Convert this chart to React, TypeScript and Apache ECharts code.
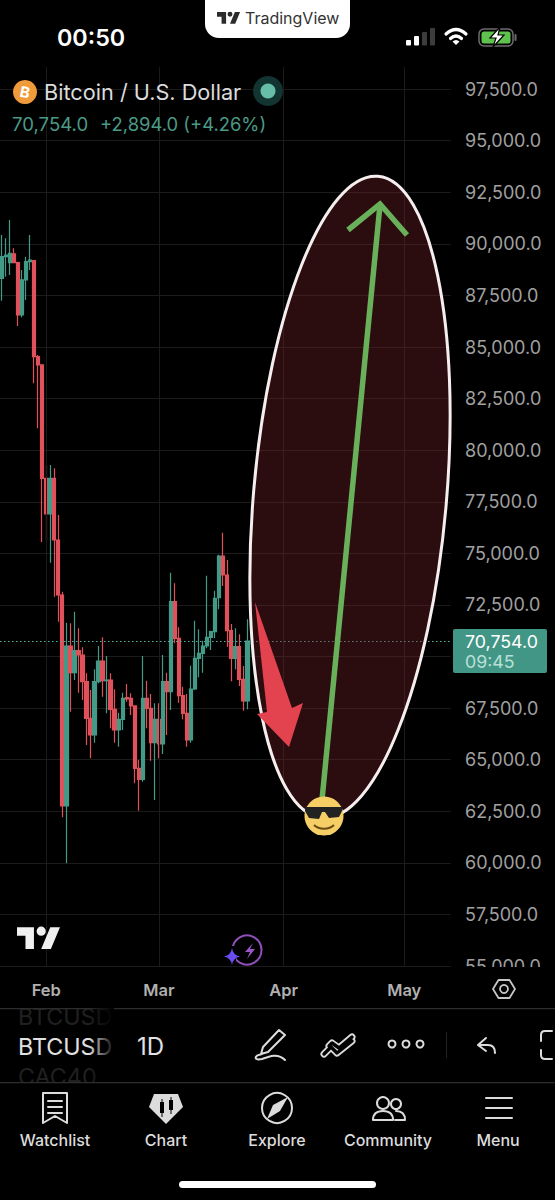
import React, { useEffect, useRef } from "react";
import * as echarts from "echarts";

const opens = [88331,89381,89090,89510,89090,86554,88250,89138,89187,84535,84131,78639,76910,78639,75649,72984,62759,70513,69221,70287,70077,68784,67008,66200,68784,69786,68833,68865,67444,66442,66959,68009,67977,67606,64585,64052,67977,67493,65829,66960,65764,68785,68300,72662,70885,68106,67250,65958,68429,69916,70158,70513,70933,71208,72855,74874,73954,71256,69916,70481,68898,67848];
const closes = [89381,89461,89542,89090,86554,88250,89138,89219,84535,84131,78639,76910,78639,75649,72984,62759,70513,69221,70287,70077,68784,67008,66200,68784,69786,68833,68865,67444,66442,66959,67977,67945,67606,64585,64052,67977,67493,65829,66960,65764,68785,68300,72662,70885,68106,67250,65958,68429,69916,70158,70513,70933,71208,72823,74874,73954,71256,69916,70481,68898,67848,70754];
const highs = [90431,90269,91157,89784,89138,88734,89381,90431,89219,84615,84131,79285,79285,79123,76862,73146,71644,71611,72177,71369,70448,69188,68381,69382,70513,70933,70028,69188,68413,67282,68251,68672,68219,67606,64989,70029,68833,68187,67735,67735,70077,69221,74067,73550,71418,68542,68187,69560,71741,71321,70772,73921,71256,73195,74939,76005,74681,71579,71369,71078,69544,71805];
const lows = [87248,88411,88492,89058,86021,86441,87281,88734,83242,81062,75554,75651,74551,72903,71692,62210,59981,67331,68865,68251,67896,65715,65069,65828,68704,68057,67250,66523,65828,65635,66442,67816,67169,63858,62534,63939,66523,64957,63050,65070,65280,66200,67412,70642,67767,66960,65635,65829,68381,68995,69221,70400,70319,70885,72290,73421,70481,68801,69382,68575,67379,67444];

const startDay = Date.UTC(2026, 0, 21);
const dayCount = 112;
const categories: string[] = [];
for (let i = 0; i < dayCount; i++) categories.push(new Date(startDay + i * 86400000).toISOString().slice(0, 10));
const monthNames: Record<string, string> = { "02": "Feb", "03": "Mar", "04": "Apr", "05": "May" };
const lastPrice = 70754;
const hiddenTick = 70000; // covered by the price tag in the reference
const headerPrice = "70,754.0";
const headerChange = "+2,894.0 (+4.26%)";
const title = "Bitcoin / U.S. Dollar";
const navItems = [["Watchlist", 55], ["Chart", 166], ["Explore", 277], ["Community", 388], ["Menu", 498]] as const;

const UP = "#439a87";
const DOWN = "#e0525b";
const FONT = "Inter, 'Noto Sans', sans-serif";
const ICON = "#dcdcdc";

const shapes: Record<string, string> = {
  tvLogo: "M14 22H7V11H0V4h14v18zM28 22h-8l7.5-18h8L28 22zM20 11a3.8 3.8 0 1 0 0-7.6 3.8 3.8 0 0 0 0 7.6z",
  pen: "M279 1030 L285 1035 L268 1052 L261 1054 L263 1047 Z M262 1054 C253 1056 254 1061 262 1059 C270 1056 278 1053 285 1060",
  twoChecks: "M324 1054 L331 1047 L337 1053 L352 1041 M329 1046 L332 1043 L339 1048 L352 1037",
  undo: "M478 1045 L486 1038 M478 1045 L486 1051 M478 1045 H488 Q495 1045 495 1053",
  bracket: "M552 1031 H545 Q541 1031 541 1035 V1041 M541 1050 V1055 Q541 1059 545 1059 H552",
  bookmark: "M43 1093 H67 V1123 L55 1116 L43 1123 Z M48 1101 H62 M48 1107 H62 M48 1113 H62",
  gem: "M154 1094 H178 L183 1107 L166 1124 L149 1107 Z",
  gemCandles: "M160 1102 H164 V1113 H160 Z M161.5 1099 H162.5 V1117 H161.5 Z M169 1100 H173 V1110 H169 Z M170.5 1097 H171.5 V1114 H170.5 Z",
  needle: "M288 1097 L280 1111 L267 1119 L273 1105 Z",
  people: "M373 1120 Q373 1111 383 1111 Q393 1111 393 1120 Z M396 1111 Q405 1111 405 1120 H395",
  menu: "M486 1098 H512 M486 1108 H512 M486 1118 H512",
  wifi: "M446 34 Q456 25 466 34 M450.5 38.5 Q456 33.5 461.5 38.5",
  wifiDot: "M456 45 L452.5 41.5 Q456 38.5 459.5 41.5 Z",
  bolt: "M500 27 L490 38 H496 L493 47 L504 35 H498 Z",
  chargeBolt: "M253 943 L245 952 H250 L247 959 L255 949 H250 Z",
  star: "M232 948 Q233 955 240 956.5 Q233 958 232 965 Q231 958 224 956.5 Q231 955 232 948 Z",
  hexagon: "M493 989 L498.5 980 H509.5 L515 989 L509.5 998 H498.5 Z",
};
Object.keys(shapes).forEach((k) => echarts.graphic.registerShape(k, echarts.graphic.extendPath(shapes[k], {})));

const txt = (text: string, x: number, y: number, size: number, fill: string, weight = 400, align = "left", z = 30) => ({
  type: "text", z, silent: true,
  style: { text, x, y, fill, font: `${weight} ${size}px ${FONT}`, align, verticalAlign: "middle" },
});
const stroke = (type: string, color = ICON, lineWidth = 2, z = 30) => ({
  type, z, silent: true, style: { fill: "none", stroke: color, lineWidth, lineCap: "round", lineJoin: "round" },
});
const solid = (type: string, color: string, z = 30) => ({ type, z, silent: true, style: { fill: color } });
const rect = (x: number, y: number, w: number, h: number, fill: string, z = 30, r = 0) => ({
  type: "rect", z, silent: true, shape: { x, y, width: w, height: h, r }, style: { fill },
});
const circle = (cx: number, cy: number, r: number, style: any, z = 30) => ({
  type: "circle", z, silent: true, shape: { cx, cy, r }, style,
});

const overlay: any[] = [
  // chart annotations
  { type: "ellipse", z: 10, silent: true, x: 350, y: 497, rotation: -0.087,
    shape: { cx: 0, cy: 0, rx: 96.5, ry: 322 },
    style: { fill: "rgba(120,32,42,0.36)", stroke: "#f6eeee", lineWidth: 3 } },
  { type: "line", z: 11, silent: true, shape: { x1: 322, y1: 800, x2: 380, y2: 205 }, style: { stroke: "#69b05a", lineWidth: 5.5 } },
  { type: "polyline", z: 11, silent: true, shape: { points: [[348, 230], [380, 204], [407, 235]] }, style: { stroke: "#69b05a", lineWidth: 5.5, fill: "none" } },
  { type: "polygon", z: 11, silent: true,
    shape: { points: [[255, 602], [292, 708], [303, 703], [289, 747], [257, 714], [267, 712]] }, style: { fill: "#e2434f" } },
  circle(324, 816, 19.5, { fill: "#f5cf66" }, 12),
  { type: "polygon", z: 13, silent: true, shape: { points: [[305, 807], [342, 807], [342, 811], [339, 817], [329, 818], [325, 812], [322, 812], [319, 819], [309, 818], [305, 811]] }, style: { fill: "#222" } },
  { type: "bezierCurve", z: 13, silent: true, shape: { x1: 314, y1: 825, x2: 334, y2: 825, cpx1: 319, cpy1: 830, cpx2: 329, cpy2: 830 }, style: { stroke: "#6d4a15", lineWidth: 2, fill: "none" } },
  // price tag
  rect(453, 629, 94, 44, "#429685", 8, 2),
  txt("70,754.0", 465, 641, 17.8, "#ffffff", 400, "left", 9),
  txt("09:45", 465, 661, 17.8, "#b9e0d8", 400, "left", 9),
  // header
  rect(205, -14, 145, 52, "#ffffff", 20, 14),
  { type: "tvLogo", z: 30, silent: true, x: 217, y: 9.5, scaleX: 0.65, scaleY: 0.65, style: { fill: "#2c2c2c" } },
  txt("TradingView", 245, 18, 16, "#333333"),
  txt("00:50", 57, 37, 23.3, "#ffffff", 600),
  rect(406, 40, 5, 5.5, "#ffffff", 30, 1),
  rect(414, 36, 5, 9.5, "#ffffff", 30, 1),
  rect(422, 32, 5, 13.5, "#3c3c3c", 30, 1),
  rect(430, 28, 5, 17.5, "#3c3c3c", 30, 1),
  { ...stroke("wifi", "#ffffff", 3.2) },
  { ...solid("wifiDot", "#ffffff") },
  { type: "rect", z: 30, silent: true, shape: { x: 479, y: 29, width: 34, height: 17, r: 5 }, style: { fill: "#000", stroke: "#6c6c6c", lineWidth: 1.5 } },
  rect(481.5, 31.5, 29, 12, "#5fc24f", 31, 2.5),
  rect(514.5, 34, 2, 7, "#6c6c6c", 30, 1),
  { ...solid("bolt", "#ffffff", 32), style: { fill: "#ffffff", stroke: "#000", lineWidth: 1.2 } },
  circle(25, 92, 12, { fill: "#ef9a3b" }),
  { type: "text", z: 31, silent: true, x: 25, y: 92, rotation: -0.2, style: { text: "B", x: 0, y: 0, fill: "#fff", font: `700 15px ${FONT}`, align: "center", verticalAlign: "middle" } },
  txt(title, 44, 92, 21.7, "#dcdcdc"),
  circle(268, 91, 15, { fill: "#123531" }),
  circle(268, 91, 7.5, { fill: "#66bda8" }),
  txt(headerPrice, 12, 124, 18.6, "#4a9a86"),
  txt(headerChange, 100, 124, 18.4, "#4a9a86"),
  // chart watermarks
  { type: "tvLogo", z: 7, silent: true, x: 17, y: 922.5, scaleX: 1.21, scaleY: 1.21, style: { fill: "#f0f0f0" } },
  circle(247, 950, 14.5, { fill: "none", stroke: "#8e4fb8", lineWidth: 2 }, 7),
  { ...solid("chargeBolt", "#9a56c8", 8) },
  rect(224, 946, 12, 20, "#000000", 7.5),
  { ...solid("star", "#6a4cf0", 8) },
  // lower panel
  rect(0, 967, 555, 233, "#000000", 1),
  { ...stroke("hexagon", "#c6c6c6", 1.8) },
  circle(504, 989, 4, { fill: "none", stroke: "#c6c6c6", lineWidth: 1.8 }),
  txt("BTCUSD", 18, 1016, 23.3, "#202020", 400, "left", 7),
  rect(0, 1000, 555, 8, "#000000", 7.2),
  rect(0, 1008, 555, 1.2, "#2d2d2d", 7.4),
  txt("CAC40", 18, 1076, 23.3, "#202020", 400, "left", 7),
  txt("BTCUSD", 18, 1046, 23.3, "#e2e2e2", 400, "left", 7),
  { type: "rect", z: 8, silent: true, shape: { x: 88, y: 1005, width: 26, height: 78 },
    style: { fill: new echarts.graphic.LinearGradient(0, 0, 1, 0, [{ offset: 0, color: "rgba(0,0,0,0)" }, { offset: 1, color: "rgba(0,0,0,0.95)" }]) } },
  txt("1D", 137, 1046, 24, "#e2e2e2", 400, "left", 9),
  { ...stroke("pen", ICON, 2) },
  { ...stroke("twoChecks", ICON, 7, 30) },
  { ...stroke("twoChecks", "#000000", 3.4, 31) },
  circle(392, 1044, 3.5, { fill: "none", stroke: ICON, lineWidth: 2 }),
  circle(406, 1044, 3.5, { fill: "none", stroke: ICON, lineWidth: 2 }),
  circle(420, 1044, 3.5, { fill: "none", stroke: ICON, lineWidth: 2 }),
  rect(446, 1032, 1, 26, "#222222"),
  { ...stroke("undo", ICON, 2) },
  { ...stroke("bracket", ICON, 2) },
  // navigation bar
  rect(0, 1082, 555, 118, "#000000", 9),
  rect(0, 1082, 555, 1.2, "#2d2d2d", 10),
  { ...stroke("bookmark", ICON, 2) },
  { ...solid("gem", ICON) },
  { ...solid("gemCandles", "#000000", 31) },
  circle(277, 1108, 15, { fill: "none", stroke: ICON, lineWidth: 2 }),
  { ...solid("needle", ICON) },
  circle(383, 1103, 6, { fill: "none", stroke: ICON, lineWidth: 2 }),
  circle(396, 1104, 5, { fill: "none", stroke: ICON, lineWidth: 2 }),
  { ...stroke("people", ICON, 2) },
  { ...stroke("menu", ICON, 2) },
  ...navItems.map(([label, x]) => txt(label, x, 1140, 16, "#dcdcdc", 500, "center")),
  rect(179, 1181, 197, 7, "#ffffff", 30, 3.5),
];

export default function App() {
  const ref = useRef<HTMLDivElement>(null);
  useEffect(() => {
    document.body.style.margin = "0";
    document.body.style.background = "#000";
    const chart = echarts.init(ref.current!, null, { renderer: "svg" });
    chart.setOption({
      animation: false,
      backgroundColor: "#000000",
      graphic: { elements: overlay },
      grid: { left: -1.3, right: 104.5, top: 67.1, bottom: 233.9, containLabel: false },
      xAxis: {
        type: "category",
        data: categories,
        z: 5,
        axisLine: { show: false },
        axisTick: { show: false },
        axisLabel: {
          interval: (_: number, v: string) => v.endsWith("-01"),
          formatter: (v: string) => monthNames[v.slice(5, 7)] ?? "",
          color: "#b0b0b0",
          fontFamily: FONT,
          fontSize: 16.5,
          fontWeight: 600,
          margin: 15,
        },
        splitLine: {
          show: true,
          alignWithLabel: true,
          interval: (_: number, v: string) => v.endsWith("-01"),
          lineStyle: { color: "#1b1b1b", width: 1 },
        },
      },
      yAxis: {
        type: "value",
        position: "right",
        min: 55000,
        max: 98566,
        interval: 2500,
        z: 0,
        axisLine: { show: false },
        axisTick: { show: false },
        axisLabel: {
          showMaxLabel: false,
          margin: 14.5,
          color: "#a0a0a0",
          fontFamily: FONT,
          fontSize: 18,
          formatter: (v: number) => (v > 97500 || v === hiddenTick ? "" : v.toLocaleString("en-US", { minimumFractionDigits: 1 })),
        },
        splitLine: { show: true, showMaxLine: false, lineStyle: { color: "#1b1b1b", width: 1 } },
      },
      series: [
        {
          type: "candlestick",
          barWidth: 3.8,
          data: opens.map((o, i) => [o, closes[i], lows[i], highs[i]]),
          itemStyle: { color: UP, color0: DOWN, borderColor: UP, borderColor0: DOWN, borderWidth: 1.2 },
          markLine: {
            silent: true,
            symbol: "none",
            label: { show: false },
            lineStyle: { type: [1.5, 2.5], color: "#55b09c", width: 1 },
            data: [{ yAxis: lastPrice }],
          },
        },
      ],
    });
    return () => chart.dispose();
  }, []);
  return <div ref={ref} style={{ width: 555, height: 1200 }} />;
}
